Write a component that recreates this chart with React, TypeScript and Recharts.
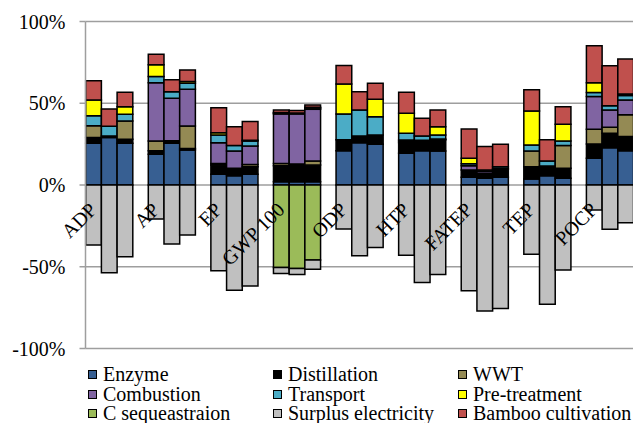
import React from 'react';
import { BarChart, Bar, XAxis, YAxis, CartesianGrid } from 'recharts';

// impact categories on the x axis
const categories = ['ADP', 'AP', 'EP', 'GWP 100', 'ODP', 'HTP', 'FATEP', 'TEP', 'POCP'];

// each row: one category, three scenario bars (%)
const enzyme = [
  [25.5, 29, 25.5], [18.8, 25.5, 21.4], [6.5, 5.7, 6.5], [2, 2, 2], [21, 25.9, 24.9],
  [19.4, 21, 20.8], [4.7, 4.1, 4.7], [3.7, 5.7, 4.1], [16.3, 22.8, 21],
];
const distillation = [
  [3.5, 1, 2.5], [2.2, 1.5, 1], [5.7, 4.5, 4.7], [9.8, 10.9, 10.2], [6.6, 4.1, 5.7],
  [6.5, 5.5, 6.8], [4.5, 3, 4.9], [7.5, 5.9, 6.1], [8.8, 8.9, 8.6],
];
const wwt = [
  [7.3, 0, 11.2], [5.9, 0, 13.7], [1, 0, 1.3], [1.3, 0, 2.5], [0, 0, 0],
  [0.8, 0, 0], [0, 0, 0], [9.6, 0, 13.9], [9, 3.6, 13.3],
];
const combustion = [
  [0, 0, 0], [35.7, 26.1, 22.5], [12.7, 10.6, 11.4], [30.4, 30.6, 31.6], [0, 0, 0],
  [0.8, 0.8, 0.5], [2.6, 1.2, 0.5], [0, 0, 0], [20, 10.6, 9.1],
];
const transport = [
  [6, 6, 4], [3.7, 4, 3.7], [4.7, 3.3, 3], [0.5, 0.5, 0.7], [15.9, 15.9, 11.2],
  [4.1, 2.7, 2.5], [1.2, 0.8, 1], [3.7, 3.1, 2.8], [2.4, 2.5, 2.7],
];
const pretreatment = [
  [9.7, 0, 4.6], [7.2, 0, 1], [1.4, 0, 0.5], [0.3, 0, 0.5], [18.2, 0, 10.7],
  [12.3, 0, 5.1], [3.3, 0, 0], [20.8, 0, 10.2], [6.1, 0, 1],
];
const cSequestration = [
  [0, 0, 0], [0, 0, 0], [0, 0, 0], [-50.4, -51, -45.9], [0, 0, 0],
  [0, 0, 0], [0, 0, 0], [0, 0, 0], [0, 0, 0],
];
const surplus = [
  [-36.7, -53.7, -43.9], [-20.8, -36.1, -30.6], [-52.5, -64.3, -61.8], [-3.7, -3.7, -5.7],
  [-26.9, -43.3, -38.2], [-42.9, -59.6, -54.7], [-64.7, -77, -75.5], [-42.3, -72.9, -52],
  [-15.3, -27.1, -23.1],
];
const bamboo = [
  [11.7, 10.5, 8.9], [6.5, 7.2, 7.1], [15.3, 11.6, 11.5], [1.5, 1.5, 1.5], [11.4, 11.2, 9.8],
  [12.8, 10.8, 10.2], [17.9, 14.4, 13.9], [12.9, 12.9, 10.8], [22.5, 24.5, 21.3],
];

const yTicks = [-100, -50, 0, 50, 100];

const series = [
  { key: 'enz', name: 'Enzyme', color: '#375F92', values: enzyme },
  { key: 'dis', name: 'Distillation', color: '#000000', values: distillation },
  { key: 'wwt', name: 'WWT', color: '#948A54', values: wwt },
  { key: 'com', name: 'Combustion', color: '#8064A2', values: combustion },
  { key: 'tra', name: 'Transport', color: '#4BACC6', values: transport },
  { key: 'pre', name: 'Pre-treatment', color: '#FFFF00', values: pretreatment },
  { key: 'cse', name: 'C sequeastraion', color: '#9BBB59', values: cSequestration },
  { key: 'sur', name: 'Surplus electricity', color: '#C0C0C0', values: surplus },
  { key: 'bam', name: 'Bamboo cultivation', color: '#C0504D', values: bamboo },
];

const data = categories.map((name, ci) => {
  const row: any = { name };
  series.forEach((s) => {
    for (let k = 0; k < 3; k++) row[s.key + k] = s.values[ci][k];
  });
  return row;
});

const FONT = 'Liberation Serif, Tinos, DejaVu Serif, serif';
const TOP = 21.5;
const PLOT_H = 327;
const ZERO_Y = TOP + PLOT_H / 2;
const GRID = '#9e9e9e';

const CategoryTick = (props: any) => {
  const { x, payload } = props;
  const ax = x - 11;
  const ay = ZERO_Y + 26;
  return (
    <text x={ax} y={ay} transform={`rotate(-45, ${ax}, ${ay})`} textAnchor="end"
      fontSize={20} fontFamily={FONT} fill="#000">
      {payload.value}
    </text>
  );
};

const PercentTick = (props: any) => {
  const { x, y, payload } = props;
  return (
    <text x={x} y={y} dy={7} textAnchor="end" fontSize={20} fontFamily={FONT} fill="#000">
      {payload.value}%
    </text>
  );
};

const legendCols = [88, 273, 458];
const legendRows = [374, 394, 413];

export default function App() {
  return (
    <div style={{ position: 'fixed', left: 0, top: 0, width: 633, height: 423, overflow: 'hidden', background: '#fff' }}>
      <BarChart width={645} height={360} data={data} stackOffset="sign" barGap={0} barSize={15.7}
        margin={{ top: TOP, right: 4, bottom: 0, left: 0 }}>
        <CartesianGrid vertical={false} stroke={GRID} strokeWidth={1.5} />
        <XAxis dataKey="name" height={11.5} axisLine={false} tickLine={false} interval={0}
          padding={{ left: -7.8, right: 0 }} tick={<CategoryTick />} />
        <YAxis width={85.5} domain={[-100, 100]} ticks={yTicks} interval={0}
          axisLine={{ stroke: GRID, strokeWidth: 1.5 }}
          tickLine={{ stroke: GRID, strokeWidth: 1.5 }} tickSize={6} tickMargin={14}
          tick={<PercentTick />} />
        {[0, 1, 2].map((k) =>
          series.map((s) => (
            <Bar key={s.key + k} dataKey={s.key + k} stackId={'g' + k} fill={s.color}
              stroke="#000" strokeWidth={1.5} isAnimationActive={false} />
          ))
        )}
      </BarChart>
      {series.map((s, i) => (
        <div key={s.key} style={{
          position: 'absolute', left: legendCols[i % 3], top: legendRows[Math.floor(i / 3)] - 9,
          height: 18, display: 'flex', alignItems: 'center', fontFamily: FONT, fontSize: 20,
          lineHeight: '18px', whiteSpace: 'nowrap', color: '#000',
        }}>
          <span style={{ width: 7, height: 7, background: s.color, border: '1px solid #000', marginRight: 6, flex: 'none' }} />
          {s.name}
        </div>
      ))}
    </div>
  );
}
